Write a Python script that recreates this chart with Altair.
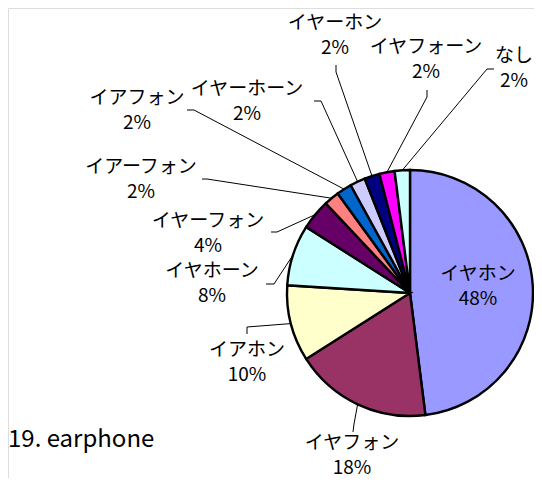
import math
import altair as alt
import pandas as pd

# ---- data ----
names = ["イヤホン", "イヤフォン", "イアホン", "イヤホーン", "イヤーフォン", "イアーフォン",
         "イアフォン", "イヤーホーン", "イヤーホン", "イヤフォーン", "なし"]
values = [48, 18, 10, 8, 4, 2, 2, 2, 2, 2, 2]
colors = ["#9999FF", "#993366", "#FFFFCC", "#CCFFFF", "#660066", "#FF8080",
          "#0066CC", "#CCCCFF", "#000080", "#FF00FF", "#CCFFFF"]
title_text = "19. earphone"

# ---- layout (reference pixels, shifted into the 526x470 canvas) ----
W, H = 526, 470
OFFX, OFFY = 14, 8
CX, CY, R = 416 - OFFX, 293 - OFFY, 123
# centre of the first label line (category name); the percentage sits one line below
label_xy = [(484, 274), (358, 443), (253, 350), (218, 271), (214, 221), (147, 167),
            (143, 98), (253, 89), (341, 23), (432, 47), (520, 56)]
elbows = [None, [(359, 432), (360, 424)], [(253, 334), (253, 327)], [(272, 284), (280, 284)],
          [(277, 232), (283, 232)], [(208, 179), (213, 179)], [(193, 110), (200, 110)],
          [(320, 101), (327, 101)], [(342, 65), (342, 72)], [(433, 90), (433, 97)],
          [(500, 69), (493, 69)]]

total = sum(values)
pie_df = pd.DataFrame({"name": names, "value": values, "idx": list(range(len(names)))})

text_df = pd.DataFrame({
    "t": [f"{n}\n{v}%" for n, v in zip(names, values)],
    "x": [p[0] - OFFX for p in label_xy],
    "y": [p[1] - OFFY for p in label_xy],
})

line_rows = []
cum = 0
for i, v in enumerate(values):
    mid = (cum + v / 2) / total * 2 * math.pi
    cum += v
    if elbows[i] is None:
        continue
    pts = [(x - OFFX, y - OFFY) for x, y in elbows[i]]
    pts.append((CX + R * math.sin(mid), CY - R * math.cos(mid)))
    for s, (x, y) in enumerate(pts):
        line_rows.append({"id": i, "seq": s, "x": x, "y": y})
line_df = pd.DataFrame(line_rows)

xs = alt.Scale(domain=[0, W], nice=False, zero=False)
ys = alt.Scale(domain=[0, H], nice=False, zero=False, reverse=True)
FONT = "Noto Sans CJK JP"

pie = alt.Chart(pie_df).mark_arc(radius=R, stroke="black", strokeWidth=2.4).encode(
    theta=alt.Theta("value:Q", stack=True),
    order=alt.Order("idx:Q"),
    color=alt.Color("name:N", scale=alt.Scale(domain=names, range=colors), legend=None),
    x=alt.value(CX),
    y=alt.value(CY),
)

leaders = alt.Chart(line_df).mark_line(color="black", strokeWidth=1).encode(
    x=alt.X("x:Q", scale=xs, axis=None),
    y=alt.Y("y:Q", scale=ys, axis=None),
    detail="id:N",
    order="seq:Q",
)

labels = alt.Chart(text_df).mark_text(
    font=FONT, fontSize=19, color="black", align="center", baseline="middle",
    lineBreak="\n", lineHeight=25
).encode(x=alt.X("x:Q", scale=xs, axis=None), y=alt.Y("y:Q", scale=ys, axis=None), text="t:N")

title = alt.Chart(pd.DataFrame({"t": [title_text]})).mark_text(
    font=FONT, fontSize=24, color="black", align="left", baseline="middle"
).encode(x=alt.value(0), y=alt.value(440 - OFFY), text="t:N")

chart = alt.layer(leaders, pie, labels, title).properties(
    width=W, height=H, autosize=alt.AutoSizeParams(type="none"), padding=0
).configure_view(stroke=None).configure(background="white")

chart.save("out.html", embed_options={"renderer": "svg", "actions": False})
